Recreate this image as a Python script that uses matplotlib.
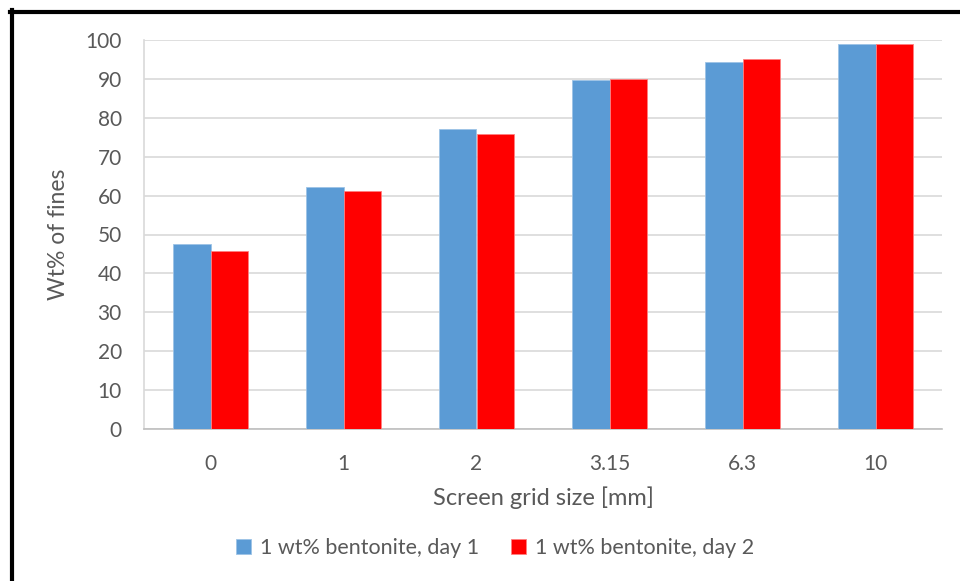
import matplotlib.pyplot as plt
import numpy as np
from matplotlib.lines import Line2D

plt.rcParams["font.family"] = ["Lato", "DejaVu Sans"]

# Screen grid sizes and wt% of fines per day
grid_sizes = ["0", "1", "2", "3.15", "6.3", "10"]
day1 = [47.5, 62.1, 77.0, 89.7, 94.3, 99.0]
day2 = [45.7, 61.2, 75.9, 90.1, 95.0, 99.0]
series_names = ["1 wt% bentonite, day 1", "1 wt% bentonite, day 2"]

text_col = "#595959"
blue = "#5B9BD5"
red = "#FF0000"

fig = plt.figure(figsize=(9.6, 5.81), dpi=100)
ax = fig.add_axes([144 / 960, 1 - 429 / 581, (942 - 144) / 960, (429 - 40) / 581])

x = np.arange(len(grid_sizes))
w = 0.285
ax.bar(x - w / 2, day1, w, color=blue, edgecolor="#9DC3E6", linewidth=0.6,
       label=series_names[0], zorder=3)
ax.bar(x + w / 2, day2, w, color=red, edgecolor="#FF8080", linewidth=0.6,
       label=series_names[1], zorder=3)

ax.set_xlim(-0.5, len(grid_sizes) - 0.5)
ax.set_ylim(0, 100)
ax.set_yticks(range(0, 101, 10))
ax.set_xticks(x)
ax.set_xticklabels(grid_sizes)
ax.tick_params(axis="both", length=0, labelsize=15, labelcolor=text_col)
ax.tick_params(axis="y", pad=16)
ax.tick_params(axis="x", pad=18)
ax.grid(axis="y", color="#D9D9D9", linewidth=1.2, zorder=0)

for side in ["top", "right"]:
    ax.spines[side].set_visible(False)
ax.spines["left"].set_color("#D9D9D9")
ax.spines["left"].set_linewidth(1.2)
ax.spines["bottom"].set_color("#BFBFBF")
ax.spines["bottom"].set_linewidth(1.2)

ax.set_xlabel("Screen grid size [mm]", fontsize=17, color=text_col, labelpad=9)
ax.set_ylabel("Wt% of fines", fontsize=16.5, color=text_col, labelpad=12)

fig.legend(loc="center", bbox_to_anchor=(495 / 960, 1 - 548 / 581), ncol=2,
           frameon=False, fontsize=15.5, labelcolor=text_col, handlelength=0.7,
           handleheight=0.7, handletextpad=0.4, columnspacing=1.5)

# black frame on top and left edge
fig.add_artist(Line2D([10 / 960, 1], [1 - 12 / 581] * 2, color="black", lw=3,
                      transform=fig.transFigure))
fig.add_artist(Line2D([12 / 960] * 2, [0, 1 - 10 / 581], color="black", lw=3,
                      transform=fig.transFigure))

fig.savefig("out.png", dpi=100)
plt.close(fig)
